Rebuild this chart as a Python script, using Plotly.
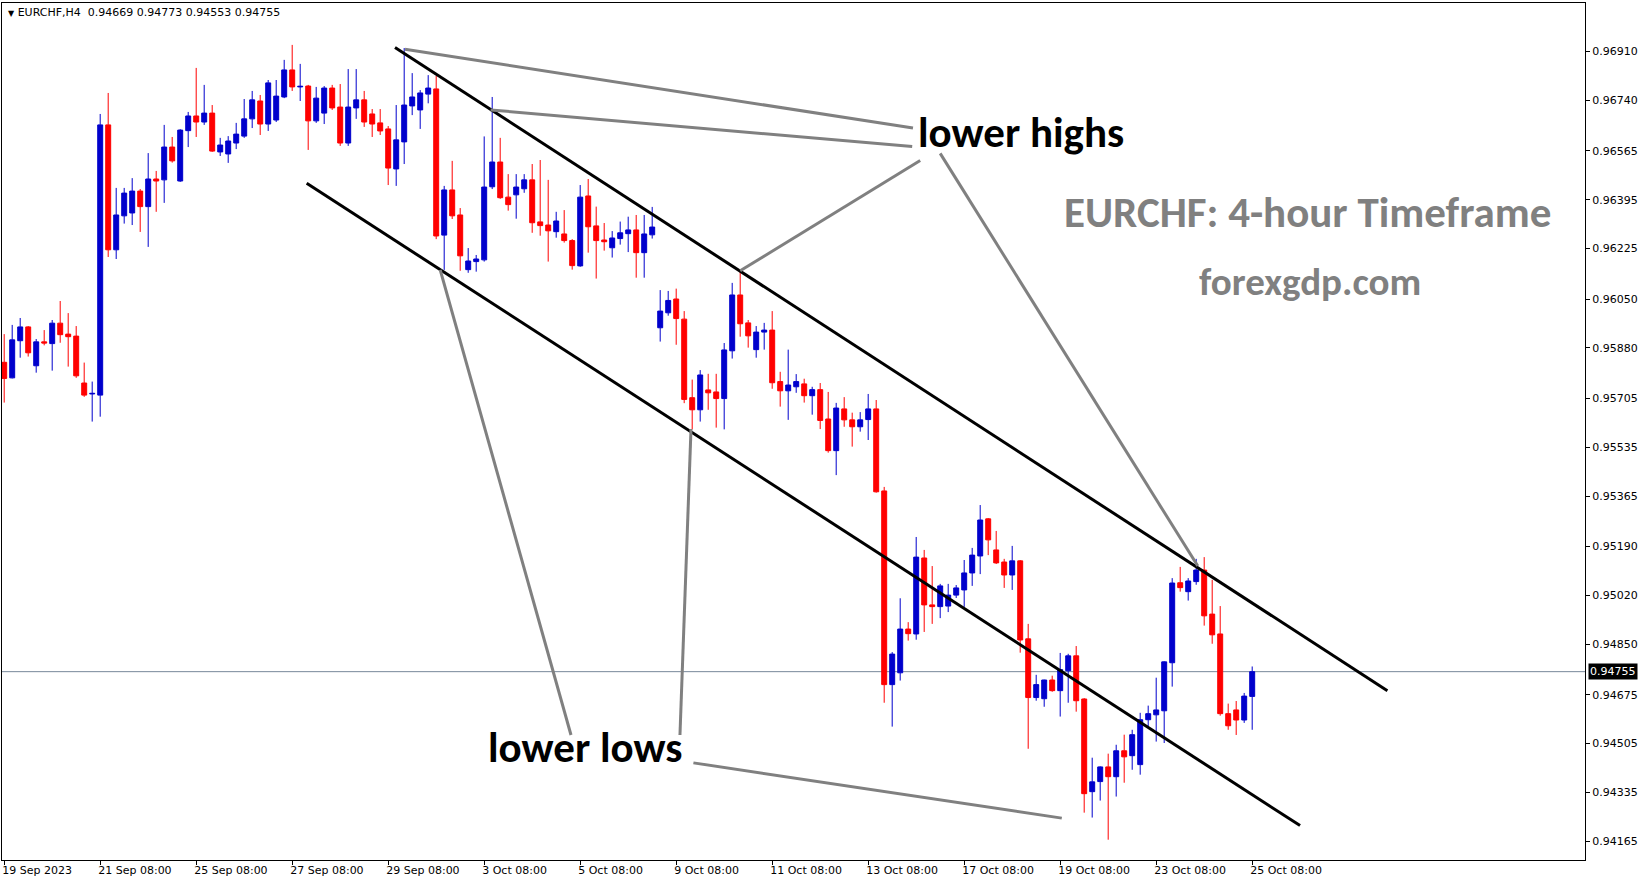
import plotly.graph_objects as go

# ---------------- data (EURCHF H4) ----------------
opens = [0.95830, 0.95776, 0.95905, 0.95953, 0.95818, 0.95901, 0.95895, 0.95966, 0.95928, 0.95921,
         0.95758, 0.95720, 0.95716, 0.96655, 0.96221, 0.96339, 0.96349, 0.96425, 0.96371, 0.96467,
         0.96464, 0.96578, 0.96460, 0.96635, 0.96686, 0.96665, 0.96696, 0.96561, 0.96554, 0.96592,
         0.96616, 0.96676, 0.96738, 0.96658, 0.96672, 0.96752, 0.96846, 0.96787, 0.96790, 0.96669,
         0.96696, 0.96783, 0.96717, 0.96592, 0.96714, 0.96742, 0.96693, 0.96662, 0.96641, 0.96502,
         0.96596, 0.96721, 0.96707, 0.96762, 0.96780, 0.96272, 0.96429, 0.96342, 0.96152, 0.96180,
         0.96186, 0.96440, 0.96526, 0.96404, 0.96412, 0.96433, 0.96464, 0.96318, 0.96307, 0.96284,
         0.96276, 0.96253, 0.96165, 0.96408, 0.96304, 0.96255, 0.96228, 0.96260, 0.96277, 0.96290,
         0.96211, 0.96273, 0.95950, 0.96002, 0.96050, 0.95980, 0.95707, 0.95665, 0.95734, 0.95727,
         0.95704, 0.95870, 0.96064, 0.95967, 0.95874, 0.95935, 0.95942, 0.95763, 0.95731, 0.95745,
         0.95755, 0.95714, 0.95735, 0.95633, 0.95523, 0.95668, 0.95630, 0.95606, 0.95631, 0.95668,
         0.95383, 0.94710, 0.94751, 0.94903, 0.94886, 0.95150, 0.94987, 0.94981, 0.94983, 0.95021,
         0.95039, 0.95098, 0.95157, 0.95286, 0.95178, 0.95136, 0.95091, 0.95140, 0.94869, 0.94665,
         0.94661, 0.94726, 0.94689, 0.94758, 0.94810, 0.94660, 0.94338, 0.94373, 0.94424, 0.94390,
         0.94480, 0.94463, 0.94432, 0.94588, 0.94605, 0.94619, 0.94786, 0.95064, 0.95033, 0.95068,
         0.95108, 0.94955, 0.94886, 0.94609, 0.94622, 0.94587, 0.94669]
highs = [0.95928, 0.95960, 0.95984, 0.95956, 0.95911, 0.95942, 0.95977, 0.96043, 0.96001, 0.95956,
         0.95829, 0.95763, 0.96693, 0.96766, 0.96436, 0.96436, 0.96470, 0.96432, 0.96557, 0.96495,
         0.96655, 0.96613, 0.96640, 0.96700, 0.96853, 0.96794, 0.96724, 0.96610, 0.96616, 0.96662,
         0.96745, 0.96773, 0.96759, 0.96811, 0.96811, 0.96881, 0.96933, 0.96867, 0.96794, 0.96787,
         0.96790, 0.96794, 0.96797, 0.96849, 0.96849, 0.96773, 0.96710, 0.96710, 0.96651, 0.96724,
         0.96922, 0.96835, 0.96776, 0.96828, 0.96825, 0.96443, 0.96530, 0.96366, 0.96227, 0.96203,
         0.96615, 0.96752, 0.96610, 0.96484, 0.96484, 0.96484, 0.96519, 0.96533, 0.96464, 0.96353,
         0.96359, 0.96258, 0.96446, 0.96467, 0.96371, 0.96314, 0.96286, 0.96319, 0.96336, 0.96342,
         0.96342, 0.96370, 0.96081, 0.96078, 0.96086, 0.96008, 0.95770, 0.95803, 0.95790, 0.95790,
         0.95897, 0.96106, 0.96145, 0.95977, 0.95956, 0.95967, 0.96008, 0.95797, 0.95874, 0.95789,
         0.95773, 0.95745, 0.95758, 0.95727, 0.95689, 0.95709, 0.95655, 0.95657, 0.95720, 0.95699,
         0.95397, 0.94823, 0.95010, 0.94927, 0.95223, 0.95178, 0.95122, 0.95060, 0.95060, 0.95056,
         0.95143, 0.95185, 0.95334, 0.95289, 0.95244, 0.95147, 0.95192, 0.95143, 0.94921, 0.94744,
         0.94727, 0.94741, 0.94820, 0.94817, 0.94844, 0.94663, 0.94456, 0.94426, 0.94470, 0.94501,
         0.94536, 0.94553, 0.94612, 0.94637, 0.94734, 0.94791, 0.95080, 0.95119, 0.95080, 0.95147,
         0.95153, 0.95074, 0.94983, 0.94644, 0.94653, 0.94681, 0.94773]
lows = [0.95690, 0.95774, 0.95846, 0.95850, 0.95794, 0.95889, 0.95801, 0.95898, 0.95815, 0.95776,
        0.95710, 0.95624, 0.95641, 0.96196, 0.96189, 0.96312, 0.96307, 0.96283, 0.96231, 0.96353,
        0.96384, 0.96524, 0.96457, 0.96578, 0.96613, 0.96655, 0.96561, 0.96547, 0.96523, 0.96571,
        0.96610, 0.96644, 0.96620, 0.96634, 0.96665, 0.96748, 0.96773, 0.96738, 0.96568, 0.96662,
        0.96658, 0.96707, 0.96582, 0.96582, 0.96676, 0.96648, 0.96613, 0.96620, 0.96446, 0.96443,
        0.96519, 0.96689, 0.96641, 0.96730, 0.96258, 0.96151, 0.96328, 0.96148, 0.96141, 0.96145,
        0.96180, 0.96432, 0.96398, 0.96357, 0.96329, 0.96419, 0.96280, 0.96270, 0.96180, 0.96263,
        0.96246, 0.96152, 0.96162, 0.96211, 0.96121, 0.96218, 0.96194, 0.96239, 0.96213, 0.96124,
        0.96124, 0.96260, 0.95902, 0.95992, 0.95891, 0.95688, 0.95597, 0.95624, 0.95665, 0.95603,
        0.95597, 0.95843, 0.95919, 0.95881, 0.95846, 0.95874, 0.95738, 0.95676, 0.95630, 0.95724,
        0.95690, 0.95648, 0.95598, 0.95516, 0.95438, 0.95606, 0.95537, 0.95589, 0.95560, 0.95377,
        0.94647, 0.94564, 0.94724, 0.94863, 0.94866, 0.94893, 0.94921, 0.94941, 0.94962, 0.95011,
        0.94980, 0.95053, 0.95094, 0.95160, 0.95129, 0.95046, 0.95039, 0.94821, 0.94487, 0.94654,
        0.94633, 0.94685, 0.94599, 0.94647, 0.94616, 0.94265, 0.94248, 0.94307, 0.94171, 0.94321,
        0.94369, 0.94414, 0.94397, 0.94564, 0.94512, 0.94507, 0.94703, 0.95033, 0.95002, 0.95057,
        0.94915, 0.94852, 0.94602, 0.94553, 0.94535, 0.94577, 0.94553]
closes = [0.95774, 0.95908, 0.95953, 0.95863, 0.95901, 0.95897, 0.95966, 0.95926, 0.95919, 0.95783,
          0.95716, 0.95722, 0.96655, 0.96221, 0.96342, 0.96418, 0.96425, 0.96371, 0.96467, 0.96460,
          0.96578, 0.96530, 0.96637, 0.96686, 0.96665, 0.96696, 0.96564, 0.96585, 0.96599, 0.96623,
          0.96676, 0.96742, 0.96658, 0.96801, 0.96755, 0.96846, 0.96787, 0.96789, 0.96669, 0.96748,
          0.96783, 0.96714, 0.96592, 0.96717, 0.96742, 0.96665, 0.96658, 0.96634, 0.96505, 0.96603,
          0.96724, 0.96752, 0.96766, 0.96783, 0.96269, 0.96429, 0.96339, 0.96200, 0.96182, 0.96189,
          0.96439, 0.96526, 0.96402, 0.96378, 0.96439, 0.96464, 0.96315, 0.96305, 0.96287, 0.96321,
          0.96253, 0.96166, 0.96404, 0.96301, 0.96253, 0.96249, 0.96262, 0.96280, 0.96290, 0.96211,
          0.96276, 0.96300, 0.96008, 0.96045, 0.95982, 0.95701, 0.95665, 0.95786, 0.95724, 0.95704,
          0.95873, 0.96064, 0.95964, 0.95922, 0.95935, 0.95942, 0.95759, 0.95731, 0.95751, 0.95763,
          0.95714, 0.95735, 0.95628, 0.95523, 0.95671, 0.95630, 0.95606, 0.95630, 0.95668, 0.95380,
          0.94710, 0.94816, 0.94903, 0.94887, 0.95153, 0.94987, 0.94981, 0.95053, 0.95021, 0.95046,
          0.95098, 0.95160, 0.95282, 0.95213, 0.95133, 0.95091, 0.95140, 0.94865, 0.94665, 0.94710,
          0.94726, 0.94689, 0.94762, 0.94810, 0.94654, 0.94331, 0.94372, 0.94424, 0.94390, 0.94480,
          0.94459, 0.94536, 0.94588, 0.94609, 0.94622, 0.94789, 0.95063, 0.95047, 0.95070, 0.95108,
          0.94949, 0.94883, 0.94609, 0.94567, 0.94587, 0.94670, 0.94755]
bar_index = list(range(len(opens)))

date_tick_bars = [0, 12, 24, 36, 48, 60, 72, 84, 96, 108, 120, 132, 144, 156]
date_tick_labels = ["19 Sep 2023", "21 Sep 08:00", "25 Sep 08:00", "27 Sep 08:00", "29 Sep 08:00",
                    "3 Oct 08:00", "5 Oct 08:00", "9 Oct 08:00", "11 Oct 08:00", "13 Oct 08:00",
                    "17 Oct 08:00", "19 Oct 08:00", "23 Oct 08:00", "25 Oct 08:00"]
price_ticks = [0.96910, 0.96740, 0.96565, 0.96395, 0.96225, 0.96050, 0.95880, 0.95705, 0.95535,
               0.95365, 0.95190, 0.95020, 0.94850, 0.94675, 0.94505, 0.94335, 0.94165]
price_tick_labels = ["%.5f" % p for p in price_ticks]

last_price = 0.94755
header_text = "EURCHF,H4\u00a0\u00a00.94669 0.94773 0.94553 0.94755"

# drawn channel (bar index, price)
channel_upper_x = [48.85, 172.9]
channel_upper_y = [0.96924, 0.94689]
channel_lower_x = [37.81, 161.98]
channel_lower_y = [0.96452, 0.94220]

# grey pointer lines (bar index, price)
pointer_lines = [
    ([50.1, 113.6], [0.96918, 0.96644]),
    ([60.8, 113.5], [0.96707, 0.96580]),
    ([92.0, 114.5], [0.96148, 0.96531]),
    ([117.0, 149.2], [0.96556, 0.95122]),
    ([54.5, 70.85], [0.96151, 0.94535]),
    ([85.85, 84.47], [0.95598, 0.94535]),
    ([86.15, 132.2], [0.94438, 0.94246]),
]

# text, bar index, price, colour, size
labels = [
    ("lower highs", 127.1, 0.96630, "#000000", 43),
    ("lower lows", 72.6, 0.94490, "#000000", 43),
    ("EURCHF: 4-hour Timeframe", 162.85, 0.96352, "#808080", 43),
    ("forexgdp.com", 163.2, 0.96112, "#808080", 39),
]

# ---------------- figure ----------------
fig = go.Figure()
fig.add_trace(go.Candlestick(
    x=bar_index, open=opens, high=highs, low=lows, close=closes,
    increasing=dict(line=dict(color="#0000cc", width=1), fillcolor="#0000cc"),
    decreasing=dict(line=dict(color="#ff0000", width=1), fillcolor="#ff0000"),
    whiskerwidth=0, showlegend=False, hoverinfo="skip"))

fig.add_trace(go.Scatter(x=channel_upper_x, y=channel_upper_y, mode="lines",
                         line=dict(color="#000000", width=3), showlegend=False, hoverinfo="skip"))
fig.add_trace(go.Scatter(x=channel_lower_x, y=channel_lower_y, mode="lines",
                         line=dict(color="#000000", width=3), showlegend=False, hoverinfo="skip"))
for px_, py_ in pointer_lines:
    fig.add_trace(go.Scatter(x=px_, y=py_, mode="lines",
                             line=dict(color="#808080", width=3), showlegend=False, hoverinfo="skip"))

big_font = "Carlito, Lato, sans-serif"
for txt, lx, ly, col, sz in labels:
    fig.add_annotation(x=lx, y=ly, xref="x", yref="y", text="<b>%s</b>" % txt, showarrow=False,
                       xanchor="center", yanchor="middle",
                       font=dict(family=big_font, size=sz, color=col))

fig.add_shape(type="line", xref="paper", x0=0, x1=1, yref="y", y0=last_price, y1=last_price,
              line=dict(color="#778899", width=1), layer="below")

fig.add_annotation(xref="paper", x=1, xanchor="left", xshift=3, yref="y", y=last_price,
                   text="%.5f" % last_price, showarrow=False, bgcolor="#000000", borderpad=1,
                   font=dict(family="DejaVu Sans", size=11, color="#ffffff"))

fig.add_annotation(xref="paper", x=0.0025, xanchor="left", yref="paper", y=0.9887, yanchor="middle",
                   text="<span style='font-size:8px'>\u25bc</span>\u00a0" + header_text,
                   showarrow=False, font=dict(family="DejaVu Sans", size=11, color="#000000"))

axis_font = dict(family="DejaVu Sans", size=11, color="#000000")
fig.update_layout(
    width=1649, height=884,
    margin=dict(l=2, r=64, t=3, b=24),
    paper_bgcolor="#ffffff", plot_bgcolor="#ffffff",
    showlegend=False,
    boxgap=0.38, boxgroupgap=0,
    xaxis=dict(range=[-0.275, 197.6], tickmode="array", tickvals=date_tick_bars,
               ticktext=date_tick_labels, ticks="outside", ticklen=4, tickcolor="#000000",
               ticklabelposition="outside right", ticklabelshift=-3,
               showgrid=False, zeroline=False, showline=True, linecolor="#000000", linewidth=1,
               mirror=True, rangeslider=dict(visible=False), tickfont=axis_font, fixedrange=True),
    yaxis=dict(range=[0.941005, 0.970786], side="right", tickmode="array", tickvals=price_ticks,
               ticktext=price_tick_labels, ticks="outside", ticklen=4, tickcolor="#000000",
               showgrid=False, zeroline=False, showline=True, linecolor="#000000", linewidth=1,
               mirror=True, tickfont=axis_font, fixedrange=True),
)

fig.write_html("out.html", config={"displayModeBar": False},
               post_script="document.body.style.margin='0';document.body.style.overflow='hidden';")
